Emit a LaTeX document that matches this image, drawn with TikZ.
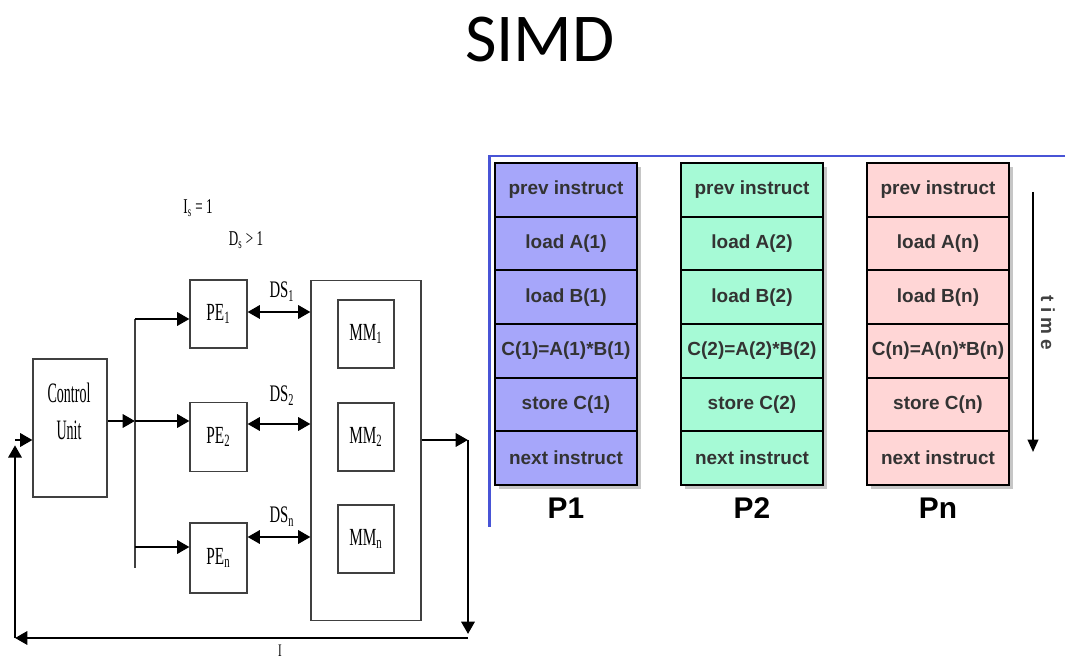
\documentclass[tikz,border=0pt]{standalone}
\usepackage{fontspec}
\setmainfont{Liberation Serif}
\newfontfamily\timescond[FakeStretch=0.62]{Liberation Serif}
\newfontfamily\timesnarrow[FakeStretch=0.5]{Liberation Serif}
\newfontfamily\arialfont{Liberation Sans}
\newfontfamily\slidefont{Carlito}
\usetikzlibrary{positioning,calc}
\usetikzlibrary{arrows.meta,shadows}

\definecolor{frameblue}{RGB}{72,84,214}
\definecolor{colA}{RGB}{166,166,250}
\definecolor{colB}{RGB}{166,250,214}
\definecolor{colC}{RGB}{255,214,214}

\begin{document}
\begin{tikzpicture}[x=0.02cm, y=-0.02cm,
  blk/.style={draw=black!75, line width=0.6pt, inner sep=0pt, align=center,
    font=\timescond\fontsize{14}{17}\selectfont},
  arr/.style={line width=1.5pt, -{Triangle[length=7pt,width=7.5pt]}},
  dbl/.style={line width=1.5pt, {Triangle[length=7pt,width=7.5pt]}-{Triangle[length=7pt,width=7.5pt]}},
  lbl/.style={inner sep=0pt, font=\timescond\fontsize{13.5}{14}\selectfont},
  colbg/.style={minimum width=2.84cm, minimum height=6.44cm, inner sep=0pt,
    drop shadow={shadow xshift=2pt, shadow yshift=-2.5pt, opacity=0.45}},
  cell/.style={draw, line width=1pt, minimum width=2.84cm, minimum height=1.073cm, inner sep=0pt,
    text=black!80, font=\arialfont\bfseries\fontsize{10.8}{12}\selectfont},
  plabel/.style={inner sep=0pt, font=\arialfont\bfseries\fontsize{17}{18}\selectfont},
  ]
  \useasboundingbox (0,0) rectangle (1081,661);

  % Title
  \node[font=\slidefont\fontsize{39}{40}\selectfont] (title) at (540,40) {SIMD};

  % Control unit, PEs and memory modules
  \node[blk, minimum width=1.48cm, minimum height=2.76cm] (cu) at (70,428) {};
  \node[align=center, inner sep=0pt, font=\timesnarrow\fontsize{16}{21}\selectfont] (cutxt) at (69,411) {Control\\Unit};
  \node[blk, minimum width=1.14cm, minimum height=1.36cm] (pe1) at (218.5,314) {PE\textsubscript{1}};
  \node[blk, minimum width=1.14cm, minimum height=1.38cm] (pe2) at (218.5,437) {PE\textsubscript{2}};
  \node[blk, minimum width=1.14cm, minimum height=1.40cm] (pen) at (218.5,558) {PE\textsubscript{n}};
  \node[blk, minimum width=2.2cm, minimum height=6.82cm] (mm) at (366,450.5) {};
  \node[blk, minimum width=1.12cm, minimum height=1.36cm] (mm1) at (366,334) {MM\textsubscript{1}};
  \node[blk, minimum width=1.12cm, minimum height=1.36cm] (mm2) at (366,437) {MM\textsubscript{2}};
  \node[blk, minimum width=1.12cm, minimum height=1.36cm] (mmn) at (366,539) {MM\textsubscript{n}};

  % Labels
  \node[lbl, font=\timescond\fontsize{12}{13}\selectfont] (is) at (198,208) {I\textsubscript{s} = 1};
  \node[lbl, font=\timescond\fontsize{12}{13}\selectfont] (ds) at (246,240) {D\textsubscript{s} > 1};
  \node[lbl] (ds1) at (282,292) {DS\textsubscript{1}};
  \node[lbl] (ds2) at (282,396) {DS\textsubscript{2}};
  \node[lbl] (dsn) at (282,517) {DS\textsubscript{n}};
  \node[lbl, font=\timescond\fontsize{10}{11}\selectfont] (ilbl) at (280,651) {I};

  % Instruction stream
  \coordinate (brMid) at (135,421);
  \coordinate (brTop) at (135,319);
  \coordinate (brLow) at (135,547);
  \coordinate (brEnd) at (135,568);
  \draw[arr] (cu.east |- brMid) -- (brMid);
  \draw[line width=0.6pt, black!75] (brTop) -- (brEnd);
  \draw[arr] (brTop) -- (pe1.west |- brTop);
  \draw[arr] (brMid) -- (pe2.west |- brMid);
  \draw[arr] (brLow) -- (pen.west |- brLow);

  % Data streams
  \coordinate (ds1y) at (0,312);
  \coordinate (ds2y) at (0,424);
  \coordinate (dsny) at (0,537);
  \draw[dbl] (pe1.east |- ds1y) -- (mm.west |- ds1y);
  \draw[dbl] (pe2.east |- ds2y) -- (mm.west |- ds2y);
  \draw[dbl] (pen.east |- dsny) -- (mm.west |- dsny);

  % Feedback loop
  \coordinate (outR) at (468,440);
  \coordinate (botR) at (468,634);
  \coordinate (botL) at (15,638);
  \coordinate (inL) at (15,440);
  \draw[arr] (mm.east |- outR) -- (outR);
  \draw[arr] (outR) -- (botR);
  \draw[arr] (468,638) -- (botL);
  \draw[arr] (botL) -- ([yshift=-3pt]inL);
  \draw[arr] (inL) -- (cu.west |- inL);

  % Frame of the timing part
  \coordinate (fTL) at (489,156);
  \coordinate (fTR) at (1065,156);
  \coordinate (fBL) at (489,527);
  \draw[frameblue, line width=1.7pt] (fTR) -- (fTL) -- (fBL);

  % Instruction columns
  \foreach \col/\sfx/\fillc/\xc in {p1/1/colA/566, p2/2/colB/752, pn/n/colC/938}{
    \node[colbg, fill=\fillc] (\col) at (\xc,324) {};
    \foreach \r/\txt in {1/prev instruct, 2/load A(\sfx), 3/load B(\sfx), 4/C(\sfx)=A(\sfx)*B(\sfx), 5/store C(\sfx), 6/next instruct}
      \node[cell] (\col-\r) at (\xc,{163+53.67*(\r-0.5)}) {\txt};
    \node[plabel] (\col-name) at (\xc,508) {P\sfx};
  }

  % Time axis
  \coordinate (tTop) at (1033,192);
  \coordinate (tBot) at (1033,452);
  \draw[line width=1.1pt, -{Triangle[length=7pt,width=6pt]}] (tTop) -- (tBot);
  \node[rotate=-90, text=black!75, font=\arialfont\bfseries\fontsize{10.8}{12}\selectfont] (timelbl) at (1048,323) {t i m e};
\end{tikzpicture}
\end{document}
